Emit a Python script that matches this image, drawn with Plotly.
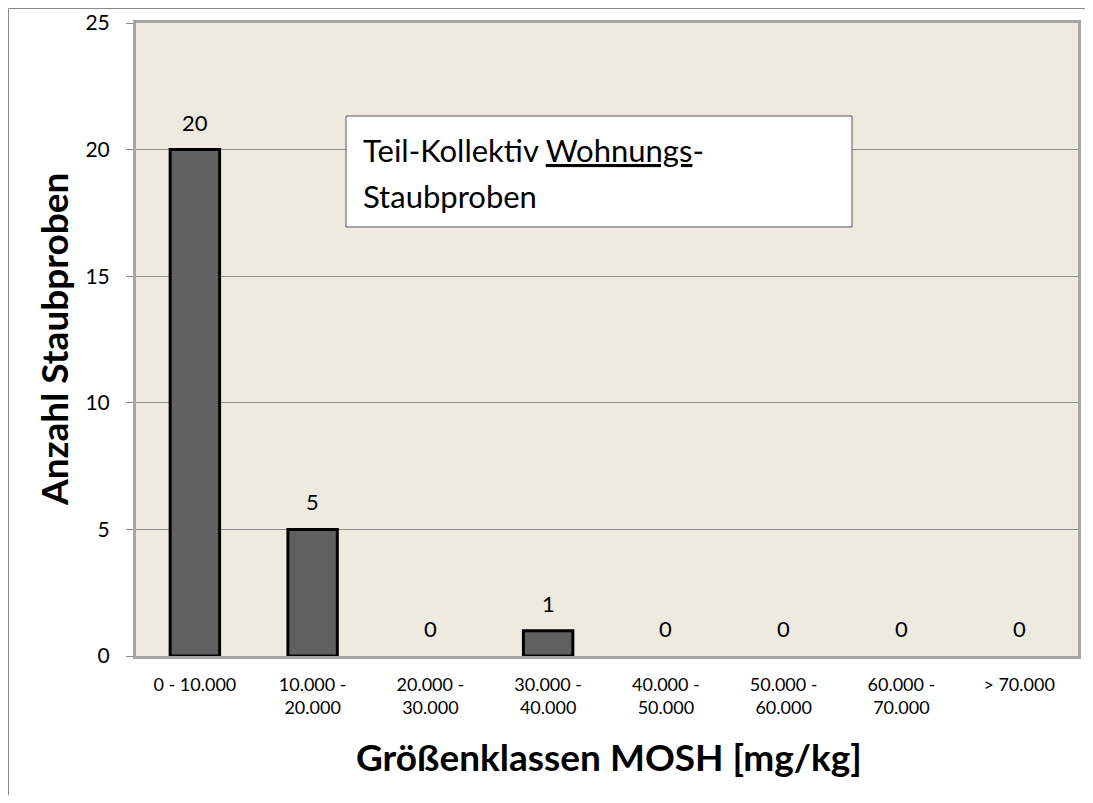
import plotly.graph_objects as go

categories = ["0 - 10.000", "10.000 -<br>20.000", "20.000 -<br>30.000", "30.000 -<br>40.000",
              "40.000 -<br>50.000", "50.000 -<br>60.000", "60.000 -<br>70.000", "> 70.000"]
counts = [20, 5, 0, 1, 0, 0, 0, 0]
y_ticks = [0, 5, 10, 15, 20, 25]

OFF = 8  # default page body margin
W, H = 1077, 787
L, R, T, B = 128, 7, 15, 139
pw, ph = W - L - R, H - T - B

def px_x(p):
    return (p - OFF - L) / pw

def px_y(p):
    return (OFF + H - B - p) / ph

FONT = "Lato"

fig = go.Figure()
fig.add_trace(go.Bar(
    x=categories, y=counts,
    marker=dict(color="#606060",
                line=dict(color="#000000", width=[3 if v > 0 else 0 for v in counts])),
    width=0.42,
    hoverinfo="skip",
))

for c, v in zip(categories, counts):
    fig.add_annotation(x=c, y=v, text=str(v), showarrow=False, yanchor="bottom",
                       yshift=12, font=dict(family=FONT, size=22, color="#000"))

# text box
fig.add_shape(type="rect", xref="paper", yref="paper",
              x0=px_x(346), x1=px_x(852), y0=px_y(227), y1=px_y(116),
              fillcolor="#FFFFFF", line=dict(color="#555555", width=1), layer="above")
fig.add_annotation(xref="paper", yref="paper", x=px_x(361), y=px_y(150), xanchor="left",
                   yanchor="middle", showarrow=False,
                   text="Teil-Kollektiv <u>Wohnungs</u>-",
                   font=dict(family=FONT, size=31, color="#000"))
fig.add_annotation(xref="paper", yref="paper", x=px_x(361), y=px_y(196), xanchor="left",
                   yanchor="middle", showarrow=False,
                   text="Staubproben",
                   font=dict(family=FONT, size=31, color="#000"))

# axis titles
fig.add_annotation(xref="paper", yref="paper", x=px_x(53), y=px_y(340), xanchor="center",
                   yanchor="middle", showarrow=False, textangle=-90,
                   text="<b>Anzahl Staubproben</b>",
                   font=dict(family=FONT, size=37, color="#000"))
fig.add_annotation(xref="paper", yref="paper", x=px_x(609), y=px_y(756), xanchor="center",
                   yanchor="middle", showarrow=False,
                   text="<b>Größenklassen MOSH [mg/kg]</b>",
                   font=dict(family=FONT, size=37, color="#000"))

# outer chart border (left and top visible)
fig.add_shape(type="line", xref="paper", yref="paper", x0=px_x(8.5), x1=px_x(8.5),
              y0=px_y(803), y1=px_y(8.5), line=dict(color="#8A8A8A", width=1))
fig.add_shape(type="line", xref="paper", yref="paper", x0=px_x(8.5), x1=px_x(1093),
              y0=px_y(8.5), y1=px_y(8.5), line=dict(color="#8A8A8A", width=1))

fig.update_layout(
    width=W, height=H,
    margin=dict(l=L, r=R, t=T, b=B, autoexpand=False),
    paper_bgcolor="#FFFFFF",
    plot_bgcolor="#EDEAE0",
    showlegend=False,
    font=dict(family=FONT, color="#000"),
)
fig.update_xaxes(
    showline=True, linecolor="#A6A6A6", linewidth=3, mirror=True,
    ticks="", tickfont=dict(family=FONT, size=18, color="#000"),
    ticklabelstandoff=10,
)
fig.update_yaxes(
    range=[0, 25], tickvals=y_ticks, showgrid=True, gridcolor="#8C8C8C", gridwidth=1,
    zeroline=False, showline=True, linecolor="#A6A6A6", linewidth=3, mirror=True,
    ticks="outside", ticklen=7, tickcolor="#8C8C8C", tickwidth=1,
    tickfont=dict(family=FONT, size=21, color="#000"),
    ticklabelstandoff=12,
)

fig.write_html("out.html")
